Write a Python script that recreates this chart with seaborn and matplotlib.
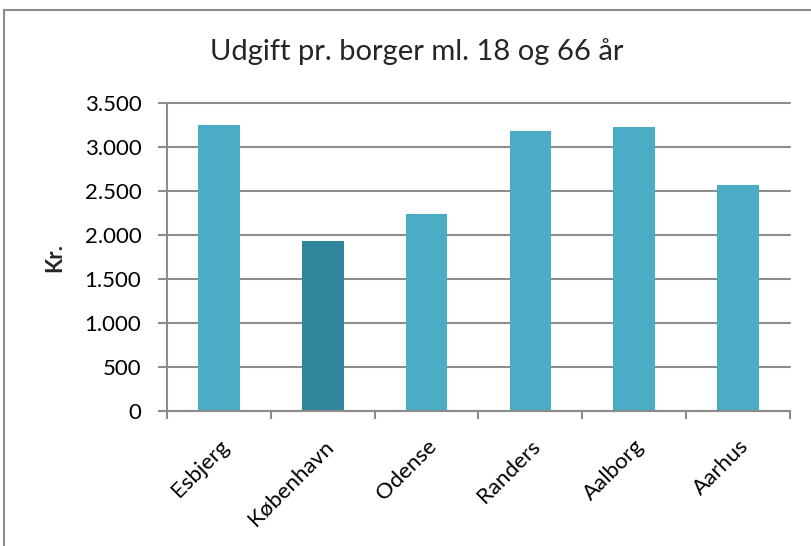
import matplotlib
matplotlib.use("Agg")
import matplotlib.pyplot as plt
import seaborn as sns
import pandas as pd
from matplotlib.ticker import FuncFormatter, FixedLocator
from matplotlib.patches import Rectangle

cities = ["Esbjerg", "København", "Odense", "Randers", "Aalborg", "Aarhus"]
values = [3258, 1932, 2247, 3190, 3235, 2576]
colors = ["#4BACC6", "#31859C", "#4BACC6", "#4BACC6", "#4BACC6", "#4BACC6"]
yticks = [0, 500, 1000, 1500, 2000, 2500, 3000, 3500]
title = "Udgift pr. borger ml. 18 og 66 år"
ylabel = "Kr."

sns.set_theme(style="white")
plt.rcParams["font.family"] = ["Lato", "DejaVu Sans"]

df = pd.DataFrame({"city": cities, "value": values})

fig = plt.figure(figsize=(8.12, 5.46), dpi=100)
ax = fig.add_axes([167/812, 1-411/546, (790-167)/812, (411-103.5)/546])

sns.barplot(data=df, x="city", y="value", hue="city", palette=colors,
            width=0.4, legend=False, ax=ax, saturation=1, linewidth=0)

ax.set_ylim(0, 3500)
ax.set_xlim(-0.5, len(cities) - 0.5)
ax.set_yticks(yticks)
ax.yaxis.set_major_formatter(FuncFormatter(lambda v, p: f"{int(v):,}".replace(",", ".")))
ax.grid(axis="y", color="#8C8C8C", linewidth=1.5)
for gl in ax.get_ygridlines():
    gl.set_clip_on(False)
ax.set_axisbelow(True)
for s in ["top", "right"]:
    ax.spines[s].set_visible(False)
for s in ["left", "bottom"]:
    ax.spines[s].set_color("#8C8C8C")
    ax.spines[s].set_linewidth(1.5)

ax.tick_params(axis="y", which="major", left=True, length=6.5, width=1.5,
               color="#8C8C8C", labelsize=16, labelcolor="black", pad=12)
ax.tick_params(axis="x", which="major", bottom=False, labelsize=16,
               labelcolor="black", pad=12)
ax.xaxis.set_minor_locator(FixedLocator([i - 0.5 for i in range(len(cities) + 1)]))
ax.tick_params(axis="x", which="minor", bottom=True, length=6, width=1.5,
               color="#8C8C8C")
for lbl in ax.get_xticklabels():
    lbl.set_rotation(45)
    lbl.set_ha("right")
    lbl.set_rotation_mode("anchor")

ax.set_xlabel("")
ax.set_ylabel(ylabel, fontsize=16, fontweight="bold", labelpad=14)
fig.text(417/812, 1-52/546, title, ha="center", va="center", fontsize=21)

fig.patches.append(Rectangle((4/812, -0.05), 1.2, 1.05 - 10/546,
                             transform=fig.transFigure, fill=False,
                             edgecolor="#8C8C8C", linewidth=1.5))

fig.savefig("out.png", dpi=100)
